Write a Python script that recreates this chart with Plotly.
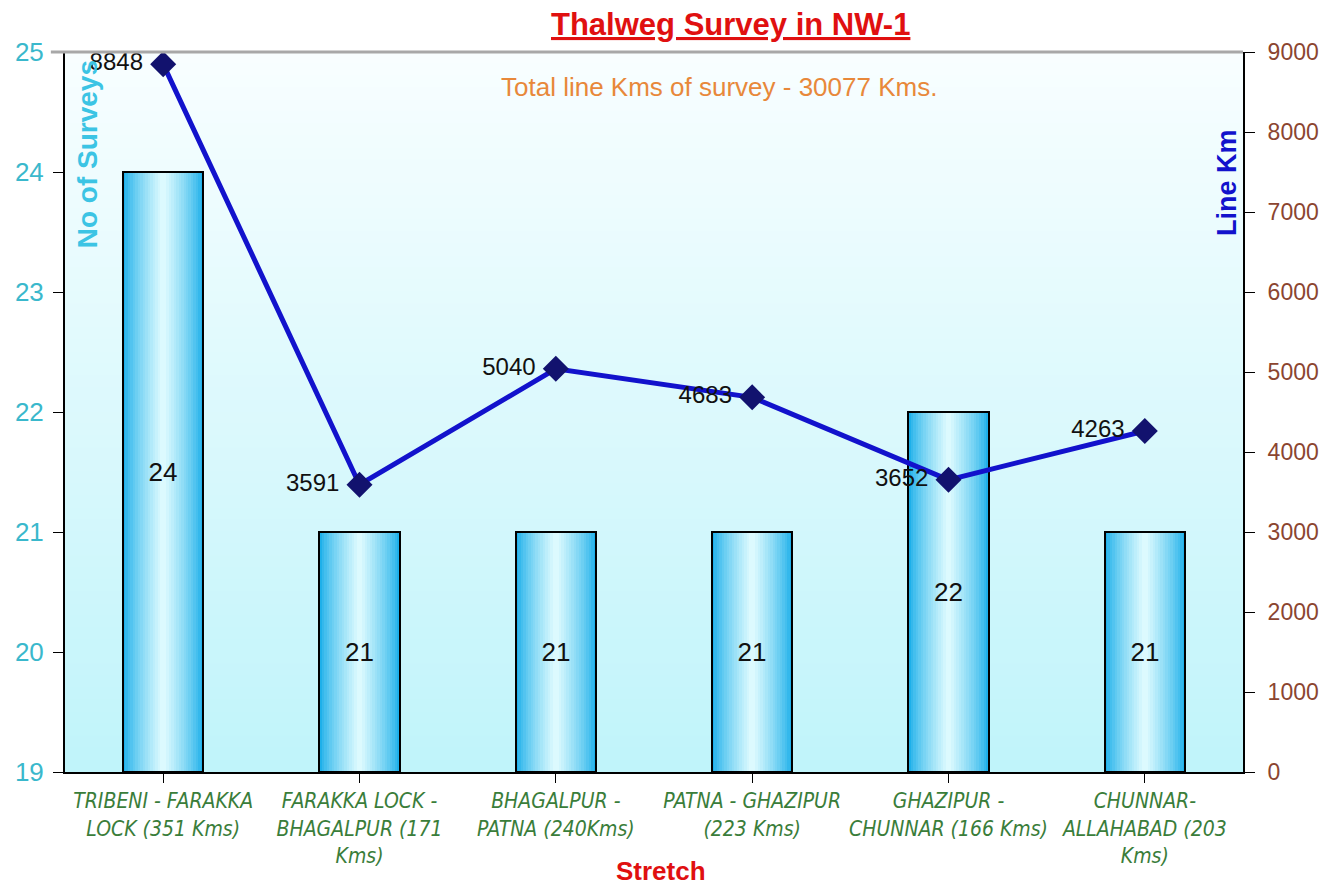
import plotly.graph_objects as go

categories = ["TRIBENI - FARAKKA<br>LOCK (351 Kms)",
              "FARAKKA LOCK -<br>BHAGALPUR (171<br>Kms)",
              "BHAGALPUR -<br>PATNA (240Kms)",
              "PATNA - GHAZIPUR<br>(223 Kms)",
              "GHAZIPUR -<br>CHUNNAR (166 Kms)",
              "CHUNNAR-<br>ALLAHABAD (203<br>Kms)"]
surveys = [24, 21, 21, 21, 22, 21]
line_km = [8848, 3591, 5040, 4683, 3652, 4263]
left_ticks = [19, 20, 21, 22, 23, 24, 25]
right_ticks = [0, 1000, 2000, 3000, 4000, 5000, 6000, 7000, 8000, 9000]

BASE = 19
x_idx = list(range(len(categories)))
FONT = "Liberation Sans, Arial"

fig = go.Figure()

# Bars with horizontal gradient made by overlaying narrower, lighter bars
n_layers = 16
outer = (30, 176, 234)
inner = (220, 250, 254)
for k in range(n_layers):
    t = k / (n_layers - 1)
    w = 0.41 * (1 - t) + 0.03 * t
    tt = t ** 0.8
    c = "rgb(%d,%d,%d)" % tuple(int(round(outer[j] + (inner[j] - outer[j]) * tt)) for j in range(3))
    fig.add_trace(go.Bar(x=x_idx, y=[v - BASE for v in surveys], base=BASE,
                         width=w, marker=dict(color=c, line=dict(width=0)),
                         hoverinfo="skip", showlegend=False))
# outline + labels
fig.add_trace(go.Bar(x=x_idx, y=[v - BASE for v in surveys], base=BASE, width=0.41,
                     marker=dict(color="rgba(0,0,0,0)", line=dict(color="black", width=2)),
                     text=[str(v) for v in surveys], textposition="inside",
                     insidetextanchor="middle",
                     textfont=dict(color="#111", size=26, family=FONT),
                     showlegend=False))

fig.add_trace(go.Scatter(x=x_idx, y=line_km, yaxis="y2", mode="lines+markers+text",
                         line=dict(color="#1212cc", width=5),
                         marker=dict(symbol="diamond", size=20, color="#12126e"),
                         text=[str(v) + "\u00a0" for v in line_km], textposition="middle left",
                         textfont=dict(color="#111", size=24, family=FONT),
                         showlegend=False))

# background gradient bands
shapes = []
n = 60
def lerp(a, b, t):
    return int(round(a + (b - a) * t))
top = (248, 254, 255)
bot = (192, 244, 250)
for i in range(n):
    t = i / (n - 1)
    col = "rgb(%d,%d,%d)" % (lerp(top[0], bot[0], t), lerp(top[1], bot[1], t), lerp(top[2], bot[2], t))
    shapes.append(dict(type="rect", xref="paper", yref="paper", x0=0, x1=1,
                       y0=1 - (i + 1) / n, y1=1 - i / n + 0.001,
                       fillcolor=col, line=dict(width=0), layer="below"))
shapes.append(dict(type="line", xref="paper", yref="paper", x0=-0.012, x1=1, y0=1, y1=1,
                   line=dict(color="#a8a8a8", width=3)))

def ann(text, x, y, color, size, angle=0):
    return dict(text=text, x=x, y=y, xref="paper", yref="paper", xanchor="center",
                yanchor="middle", textangle=angle, showarrow=False, borderpad=0,
                font=dict(color=color, size=size, family=FONT))

annotations = [
    ann("<b><u>Thalweg Survey in NW-1</u></b>", 0.565, 1.0375, "#e01010", 31),
    ann("Total line Kms of survey - 30077 Kms.", 0.555, 0.951, "#e8883a", 26),
    ann("<b>No of Surveys</b>", 0.0187, 0.858, "#3cc4e4", 28, -90),
    ann("<b>Line Km</b>", 0.987, 0.819, "#1212cc", 27, -90),
    ann("<b>Stretch</b>", 0.506, -0.1375, "#e01010", 26),
]

fig.update_layout(
    width=1330, height=886,
    margin=dict(l=57, r=95, t=44, b=122),
    paper_bgcolor="white", plot_bgcolor="white",
    barmode="overlay", bargap=0,
    shapes=shapes, annotations=annotations,
    xaxis=dict(tickmode="array", tickvals=x_idx, ticktext=categories,
               range=[-0.5, len(categories) - 0.5], tickson="boundaries",
               ticks="outside", ticklen=9, tickcolor="black",
               showline=True, linecolor="black", linewidth=2, showgrid=False,
               tickangle=0, automargin=False,
               tickfont=dict(color="#3a7d3a", size=21, style="italic",
                             family="DejaVu Sans Condensed, Liberation Sans Narrow, Liberation Sans"),
               ),
    yaxis=dict(range=[19, 25], tickvals=left_ticks, ticks="outside", ticklen=10,
               tickcolor="black", showline=True, linecolor="black", linewidth=2,
               showgrid=False, zeroline=False, automargin=False, ticklabelstandoff=4,
               tickfont=dict(color="#3ab8cc", size=26, family=FONT)),
    yaxis2=dict(range=[0, 9000], tickvals=right_ticks, overlaying="y", side="right",
                ticks="outside", ticklen=10, tickcolor="black", showline=True,
                linecolor="black", linewidth=2, showgrid=False, zeroline=False, automargin=False,
                ticklabelstandoff=8,
                tickfont=dict(color="#8b4530", size=23, family=FONT)),
)

fig.write_html("out.html")
